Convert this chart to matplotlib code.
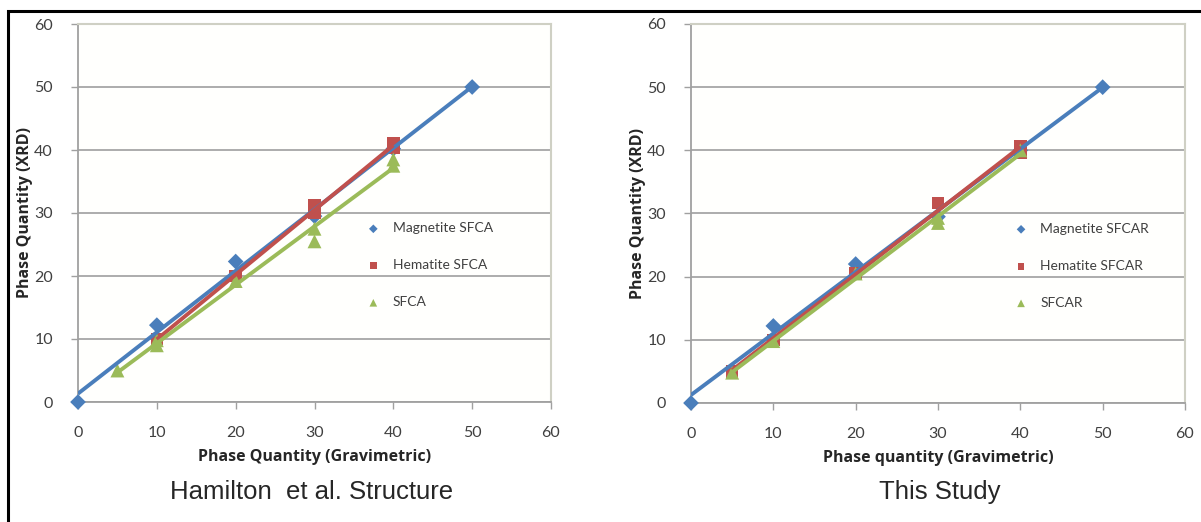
import numpy as np
import matplotlib
matplotlib.use("Agg")
import matplotlib.pyplot as plt
from matplotlib.patches import Rectangle

# ---------------- data ----------------
# Left panel: Hamilton et al. structure
mag_l_x = [0, 10, 20, 30, 40, 50]
mag_l_y = [0, 12.2, 22.3, 29.5, 40.2, 50]
hem_l_x = [10, 20, 30, 30, 40, 40]
hem_l_y = [10, 20, 30.0, 31.2, 41.0, 40.4]
sfca_l_x = [5, 10, 10, 20, 30, 30, 40, 40]
sfca_l_y = [5.0, 9.0, 9.8, 19.2, 25.5, 27.5, 38.5, 37.5]

# Right panel: this study
mag_r_x = [0, 10, 20, 30, 40, 50]
mag_r_y = [0, 12.2, 22.0, 29.5, 40.0, 50]
hem_r_x = [5, 10, 20, 30, 40, 40]
hem_r_y = [5.0, 10.0, 20.5, 31.7, 40.6, 39.6]
sfcar_x = [5, 10, 20, 30, 30, 40]
sfcar_y = [4.8, 9.8, 20.5, 28.5, 29.3, 40.0]

labels_l = ["Magnetite SFCA", "Hematite SFCA", "SFCA"]
labels_r = ["Magnetite SFCAR", "Hematite SFCAR", "SFCAR"]
ticks = [0, 10, 20, 30, 40, 50, 60]

BLUE = "#4A7EBB"
RED = "#C0504D"
GREEN = "#9BBB59"
TXT = "#404040"
FONT = ["Lato", "DejaVu Sans"]
LABFONT = ["Open Sans", "DejaVu Sans"]

plt.rcParams["font.family"] = FONT

fig = plt.figure(figsize=(12.01, 5.22), dpi=100)
W, H = 1201, 522

# outer black frame (top & left visible)
fig.add_artist(Rectangle((8 / W, -0.2), 1.2, 1 - 11 / H + 0.2,
                         transform=fig.transFigure, fill=False,
                         edgecolor="black", linewidth=2.2, clip_on=False))


def panel(rect, series, labels, xlabel, title, title_x, leg_anchor):
    ax = fig.add_axes(rect)
    ax.set_facecolor("#FFFFFD")
    ax.set_xlim(0, 60)
    ax.set_ylim(0, 60)
    ax.set_xticks(ticks)
    ax.set_yticks(ticks)
    ax.grid(axis="y", color="#A6A6A6", linewidth=1.3)
    ax.set_axisbelow(True)
    for s in ["top", "right"]:
        ax.spines[s].set_color("#CFD0C4")
        ax.spines[s].set_linewidth(1.5)
    for s in ["left", "bottom"]:
        ax.spines[s].set_color("#A0A0A0")
        ax.spines[s].set_linewidth(1.3)
    ax.tick_params(axis="both", direction="out", length=5, width=1,
                   color="#A0A0A0", labelsize=11.5, labelcolor=TXT)
    ax.tick_params(axis="x", pad=12)
    ax.tick_params(axis="y", pad=13)

    markers = ["D", "s", "^"]
    colors = [BLUE, RED, GREEN]
    msz = [8, 9, 10]
    handles = []
    for (x, y), m, c, ms in zip(series, markers, colors, msz):
        x = np.asarray(x, float)
        y = np.asarray(y, float)
        h = ax.scatter(x, y, marker=m, s=ms ** 2, color=c, zorder=3,
                       edgecolors="none", clip_on=False)
        handles.append(h)
    for (x, y), c in zip(series, colors):
        x = np.asarray(x, float)
        y = np.asarray(y, float)
        k, b = np.polyfit(x, y, 1)
        xx = np.array([x.min(), x.max()])
        ax.plot(xx, k * xx + b, color=c, linewidth=2.8, zorder=4,
                solid_capstyle="butt")
    leg = ax.legend(handles, labels, loc="upper left",
                    bbox_to_anchor=leg_anchor, frameon=False,
                    fontsize=10, labelspacing=1.8, handletextpad=0.4,
                    markerscale=0.55, borderpad=0, borderaxespad=0)
    for t in leg.get_texts():
        t.set_color(TXT)
    ax.set_xlabel(xlabel, fontsize=11.5, fontweight="bold", color="#262626",
                  labelpad=7, family=LABFONT)
    ax.set_ylabel("Phase Quantity (XRD)", fontsize=11.5, fontweight="bold",
                  color="#262626", labelpad=1, family=LABFONT)
    fig.text(title_x, 1 - 492 / H, title, ha="center", va="center",
             fontsize=18.5, color="#262626",
             family=["Liberation Sans Narrow", "Liberation Sans", "DejaVu Sans"])
    return ax


panel([78 / W, 1 - 402 / H, (551 - 78) / W, (402 - 24) / H],
      [(mag_l_x, mag_l_y), (hem_l_x, hem_l_y), (sfca_l_x, sfca_l_y)],
      labels_l, "Phase Quantity (Gravimetric)", "Hamilton  et al. Structure",
      312 / W, (0.595, 0.475))
panel([691 / W, 1 - 403 / H, (1185 - 691) / W, (403 - 24) / H],
      [(mag_r_x, mag_r_y), (hem_r_x, hem_r_y), (sfcar_x, sfcar_y)],
      labels_r, "Phase quantity (Gravimetric)", "This Study",
      940 / W, (0.64, 0.475))

fig.savefig("out.png", dpi=100, facecolor="white")
